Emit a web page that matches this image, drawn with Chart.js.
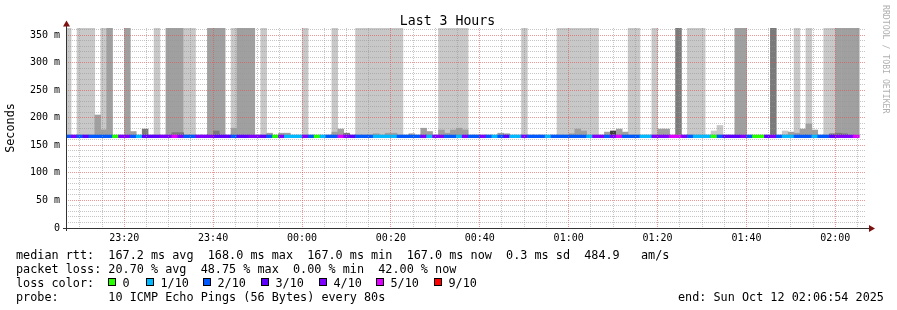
<!DOCTYPE html>
<html><head><meta charset="utf-8">
<script src="https://cdn.jsdelivr.net/npm/chart.js@4/dist/chart.umd.min.js"></script>
<style>
html,body{margin:0;padding:0;background:#fff;}
#wrap{position:relative;width:897px;height:310px;overflow:hidden;font-family:"DejaVu Sans Mono",monospace;}
canvas{position:absolute;left:0;top:0;}
.t{position:absolute;white-space:pre;font-size:11.8px;color:#000;line-height:14px;}
.box{position:absolute;width:6px;height:6px;border:1px solid #000;}
#title{position:absolute;left:0;width:895px;top:11.5px;text-align:center;font-size:13.2px;line-height:17px;white-space:pre;}
#rrd{position:absolute;left:881px;top:5px;writing-mode:vertical-rl;font-size:8.2px;color:#b0b0b0;white-space:pre;line-height:10px;}
</style></head>
<body><div id="wrap">
<canvas id="c" width="897" height="310"></canvas>
<div id="title">Last 3 Hours</div>
<div id="rrd">RRDTOOL / TOBI OETIKER</div>
<div id="legend"></div>
</div>
<script>
// ---- data ----
const startMinutes = 6.9;          // graph start 23:06:54, in minutes after 23:00
const firstStepMinutes = 6.71;     // start of the first 80 s consolidation step
const stepMinutes = 80 / 60;       // one probe every 80 s
const spanMinutes = 180;           // Last 3 Hours
const medianRtt = 167;             // ms, level of the loss-coloured median line
const smokeTop = 362.7;            // ms, top of the smoke bands (graph top)
// smoke shade per step: 0 none, 1 light, 2 medium, 3 dark
const tallShade = [
1,0,1,1,1,0,1,2,0,0, 2,0,0,0,0,1,0,2,2,2, 1,1,0,0,2,2,2,0,1,2,
2,2,0,1,0,0,0,0,0,0, 1,0,0,0,0,1,0,0,0,1, 1,1,1,1,1,1,1,0,0,0,
0,0,0,1,1,1,1,1,0,0, 0,0,0,0,0,0,0,1,0,0, 0,0,0,1,1,1,1,1,1,1,
0,0,0,0,0,1,1,0,0,1, 0,0,0,3,0,1,1,1,0,0, 0,0,0,2,2,0,0,0,0,3,
0,0,0,1,0,1,0,0,1,1, 2,2,2,2,0];
// upper edge (ms) of the near-median smoke, 0 = none
const bumpTop = [
0,0,0,0,0,205,178,0,0,0, 0,175,0,179.5,0,0,0,0,173,173, 0,0,0,0,0,176,0,0,181,0,
0,0,0,0,172,0,172,172,0,0, 0,0,0,0,0,174,179.5,172,0,0, 0,0,171,0,172,172,0,0,171,0,
181,175,0,177.7,172,177.7,181,178,0,0, 0,0,0,172,171,0,0,0,0,0, 0,0,0,0,0,171,179.5,176,0,0,
0,174,176,179.5,174,0,0,0,0,0, 179.5,179.5,0,0,0,0,0,0,0,176, 186,0,0,0,0,0,0,0,0,0,
0,176,174,172,179.5,188.6,177.7,0,0,171, 172,171,0,0,0];
const bumpShade = [
0,0,0,0,0,2,2,0,0,0, 0,2,0,3,0,0,0,0,3,3, 0,0,0,0,0,3,0,0,2,0,
0,0,0,0,2,0,2,2,0,0, 0,0,0,0,0,2,2,3,0,0, 0,0,2,0,2,2,0,0,2,0,
2,2,0,2,2,2,2,2,0,0, 0,0,0,2,2,0,0,0,0,0, 0,0,0,0,0,2,2,2,0,0,
0,2,4,2,2,0,0,0,0,0, 2,2,0,0,0,0,0,0,0,1, 1,0,0,0,0,0,0,0,0,0,
0,1,2,2,2,2,2,0,0,3, 3,3,0,0,0];
// lost pings out of 10 per step (-1 = no data)
const lossCount = [
2,4,2,3,2,2,2,2,0,4, 4,2,1,3,3,3,4,4,5,4, 2,2,4,4,4,3,3,3,2,3,
3,4,4,3,2,0,4,1,1,1, 4,2,0,1,2,2,5,4,3,2, 2,2,1,1,1,1,2,2,2,2,
4,1,4,4,2,2,1,4,2,2, 4,2,1,2,3,1,1,4,2,2, 2,1,2,2,2,2,2,2,1,4,
4,2,4,5,2,2,2,1,1,4, 4,4,5,5,4,2,1,1,1,0, 2,3,3,3,4,2,0,0,3,4,
2,1,1,2,2,2,1,2,2,3, 4,4,4,5,-1];
const lossLevels = [0,1,2,3,4,5,9];
const lossLabels = ['0','1/10','2/10','3/10','4/10','5/10','9/10'];
const lossColors = ['#26ff00','#00b8ff','#0059ff','#5e00ff','#7e00ff','#dd00ff','#ff0000'];
const shadeColors = [null,'#c8c8c8','#a0a0a0','#7a7a7a','#404040'];
const yTickStep = 10, yLabelStep = 50;
const xTickStep = 5, xLabelStep = 20;
const statsRtt = 'median rtt:  167.2 ms avg  168.0 ms max  167.0 ms min  167.0 ms now  0.3 ms sd  484.9   am/s';
const statsLoss = 'packet loss: 20.70 % avg  48.75 % max  0.00 % min  42.00 % now';
const probeText = 'probe:       10 ICMP Echo Pings (56 Bytes) every 80s';
const endText = 'end: Sun Oct 12 02:06:54 2025';

// ---- legend (text) ----
const lg = document.getElementById('legend');
function addText(txt, x, y){const d=document.createElement('div');d.className='t';d.style.left=x+'px';d.style.top=y+'px';d.textContent=txt;lg.appendChild(d);}
addText(statsRtt,16,248);
addText(statsLoss,16,261.5);
addText('loss color:',16,275.5);
const boxX=[108,146,203,261,319,376,434];
lossLabels.forEach((l,i)=>{
  const b=document.createElement('div');b.className='box';b.style.left=boxX[i]+'px';b.style.top='278px';b.style.background=lossColors[i];lg.appendChild(b);
  addText(l,boxX[i]+14.5,275.5);
});
addText(probeText,16,289.5);
addText(endText,678,289.5);

// ---- datasets ----
const xOf = i => firstStepMinutes + (i + 0.5) * stepMinutes;
const smokeData=[], smokeCol=[], bumpData=[], bumpCol=[], lineData=[], lineCol=[];
for (let i=0;i<tallShade.length;i++){
  if (tallShade[i]>0){smokeData.push({x:xOf(i),y:[medianRtt-1,smokeTop]});smokeCol.push(shadeColors[tallShade[i]]);}
  if (bumpTop[i]>0){bumpData.push({x:xOf(i),y:[medianRtt-1,bumpTop[i]]});bumpCol.push(shadeColors[bumpShade[i]]);}
  if (lossCount[i]>=0){lineData.push({x:xOf(i),y:[medianRtt-3.3,medianRtt+1.8]});lineCol.push(lossColors[lossLevels.indexOf(lossCount[i])]);}
}
const barCommon={grouped:false,barPercentage:1,categoryPercentage:1,borderWidth:0,inflateAmount:0.3};

const majorX='rgba(225,80,80,0.6)', minorX='rgba(150,150,150,0.55)';
const axesPlugin={id:'axes',afterDraw(chart){
  const {ctx,chartArea:a}=chart;ctx.save();
  ctx.strokeStyle='#333';ctx.lineWidth=1;ctx.beginPath();
  ctx.moveTo(a.left+0.5,a.bottom+3);ctx.lineTo(a.left+0.5,a.top-3);
  ctx.moveTo(a.left-3,a.bottom+0.5);ctx.lineTo(a.right+3,a.bottom+0.5);ctx.stroke();
  ctx.fillStyle='#7f1010';ctx.beginPath();
  ctx.moveTo(a.left+0.5,a.top-7.5);ctx.lineTo(a.left-3,a.top-1.5);ctx.lineTo(a.left+4,a.top-1.5);ctx.closePath();ctx.fill();
  ctx.beginPath();ctx.moveTo(a.right+9,a.bottom+0.5);ctx.lineTo(a.right+3,a.bottom-3);ctx.lineTo(a.right+3,a.bottom+4);ctx.closePath();ctx.fill();
  ctx.restore();}};

function fmtTime(v){const m=Math.round(v);const h=(23+Math.floor(m/60))%24;const mm=m%60;return String(h).padStart(2,'0')+':'+String(mm).padStart(2,'0');}

new Chart(document.getElementById('c'),{
  type:'bar',
  data:{datasets:[
    Object.assign({label:'median',data:lineData,backgroundColor:lineCol,order:0},barCommon),
    Object.assign({label:'smoke near median',data:bumpData,backgroundColor:bumpCol,order:1},barCommon),
    Object.assign({label:'smoke',data:smokeData,backgroundColor:smokeCol,order:2},barCommon)
  ]},
  options:{
    responsive:false,animation:false,devicePixelRatio:1,
    layout:{padding:{left:0,right:31,top:28,bottom:62}},
    plugins:{legend:{display:false},tooltip:{enabled:false},title:{display:false}},
    scales:{
      x:{type:'linear',offset:false,min:startMinutes,max:startMinutes+spanMinutes,
        afterBuildTicks:s=>{const t=[];for(let v=Math.ceil(s.min/xTickStep)*xTickStep;v<=s.max;v+=xTickStep)t.push({value:v});s.ticks=t;},
        afterFit:s=>{s.height=20;},
        ticks:{autoSkip:false,maxRotation:0,padding:4,color:'#000',font:{family:'DejaVu Sans Mono',size:10},
          callback:v=>(v%xLabelStep===0?fmtTime(v):'')},
        grid:{offset:false,drawTicks:false,z:1,color:c=>(c.tick&&c.tick.value%xLabelStep===0?majorX:minorX)},
        border:{display:false,dash:[1,1]}},
      y:{min:0,max:smokeTop,
        afterBuildTicks:s=>{const t=[];for(let v=0;v<=s.max;v+=yTickStep)t.push({value:v});s.ticks=t;},
        afterFit:s=>{s.width=66;},
        ticks:{autoSkip:false,padding:6,color:'#000',font:{family:'DejaVu Sans Mono',size:10},
          callback:v=>(v%yLabelStep===0?(v===0?'0':v+' m'):'')},
        grid:{drawTicks:false,z:1,color:c=>(c.tick&&c.tick.value%yLabelStep===0&&c.tick.value>0?majorX:minorX)},
        border:{display:false,dash:[1,1]},
        title:{display:true,text:'Seconds',color:'#000',font:{family:'DejaVu Sans Mono',size:11.8},padding:{top:4,bottom:0}}}
    }
  },
  plugins:[axesPlugin]
});
</script>
</body></html>
